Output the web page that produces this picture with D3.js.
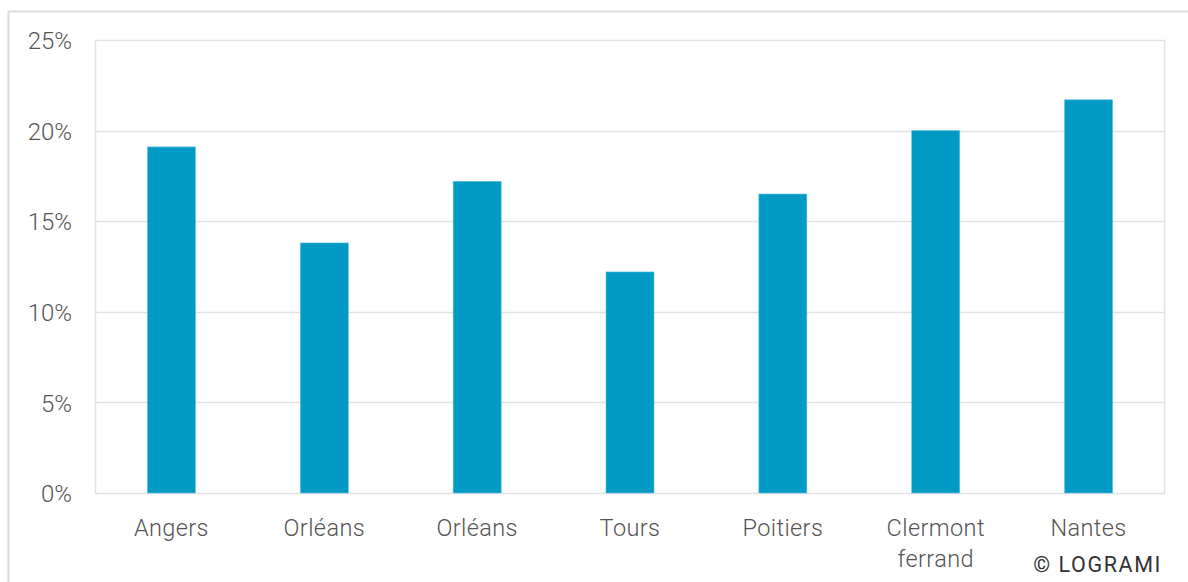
<!DOCTYPE html>
<html><head><meta charset="utf-8">
<script src="https://cdn.jsdelivr.net/npm/d3@7"></script>
<style>
body{margin:0;background:#fff;}
svg{display:block;}
text{font-family:Roboto,"Noto Sans",sans-serif;}
</style></head>
<body>
<svg id="c" width="1188" height="582"></svg>
<script>
const categories = [["Angers"],["Orléans"],["Orléans"],["Tours"],["Poitiers"],["Clermont","ferrand"],["Nantes"]];
const values = [0.191, 0.138, 0.172, 0.122, 0.165, 0.200, 0.217];
const yTicks = [0, 0.05, 0.10, 0.15, 0.20, 0.25];
const credit = "© LOGRAMI";

const svg = d3.select("#c");
const W = 1188, H = 582;
const m = {left:95, right:1165, top:40, bottom:493};

// outer frame
svg.append("path").attr("d", `M8.5,${H} L8.5,11.5 L${W},11.5`)
  .attr("fill","none").attr("stroke","#dcdcdc").attr("stroke-width",2);

const idx = categories.map((d,i)=>i);
const x = d3.scaleBand().domain(idx).range([m.left, m.right]).paddingInner(0.686).paddingOuter(0.343);
const y = d3.scaleLinear().domain([0,0.25]).range([m.bottom, m.top]);

// grid
svg.append("g").selectAll("line").data(yTicks).join("line")
  .attr("x1", m.left).attr("x2", m.right)
  .attr("y1", d=>Math.round(y(d))+0.5).attr("y2", d=>Math.round(y(d))+0.5)
  .attr("stroke","#e2e2e2").attr("stroke-width",1.5);
// plot border sides
svg.append("line").attr("x1",m.left+0.5).attr("x2",m.left+0.5).attr("y1",m.top).attr("y2",m.bottom)
  .attr("stroke","#e2e2e2").attr("stroke-width",1.5);
svg.append("line").attr("x1",m.right-0.5).attr("x2",m.right-0.5).attr("y1",m.top).attr("y2",m.bottom)
  .attr("stroke","#e2e2e2").attr("stroke-width",1.5);

// y axis labels
const yAxis = d3.axisLeft(y).tickValues(yTicks).tickFormat(d3.format(".0%")).tickSize(0).tickPadding(23);
const ga = svg.append("g").attr("transform",`translate(${m.left},1)`).call(yAxis);
ga.select(".domain").remove();
ga.selectAll("text").attr("font-size",24).attr("font-weight",300).attr("fill","#555")
  .attr("font-family","Roboto,sans-serif");

// bars
svg.append("g").selectAll("rect").data(values).join("rect")
  .attr("x",(d,i)=>x(i)).attr("width",x.bandwidth())
  .attr("y",d=>y(d)).attr("height",d=>y(0)-y(d))
  .attr("fill","#009ac5").attr("stroke","#5cc3e0").attr("stroke-width",0.6);

// x labels
const xl = svg.append("g").selectAll("text").data(categories).join("text")
  .attr("x",(d,i)=>x(i)+x.bandwidth()/2).attr("y",536)
  .attr("text-anchor","middle").attr("font-size",23.5).attr("font-weight",300).attr("fill","#555")
  .attr("letter-spacing",0.4);
xl.each(function(d){
  const t = d3.select(this);
  d.forEach((s,j)=>t.append("tspan").attr("x",t.attr("x")).attr("dy", j===0?0:31).text(s));
});

svg.append("text").attr("x",1162).attr("y",572).attr("text-anchor","end")
  .attr("font-size",21.5).attr("letter-spacing",1.6).attr("fill","#333").text(credit);
</script>
</body></html>
